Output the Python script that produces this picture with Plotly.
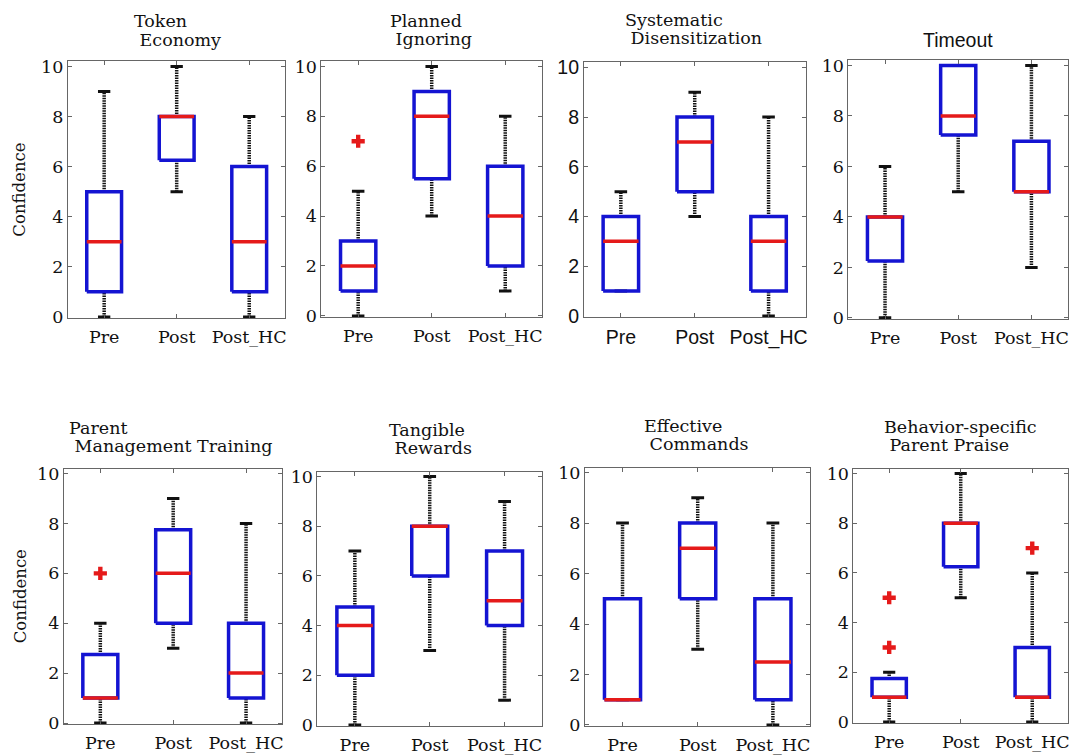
import plotly.graph_objects as go

# ---------------- data ----------------
categories = ["Pre", "Post", "Post_HC"]

# title lines per panel
title_line1 = ["Token", "Planned", "Systematic", "Timeout",
               "Parent", "Tangible", "Effective", "Behavior-specific"]
title_line2 = ["Economy", "Ignoring", "Disensitization", "",
               "Management Training", "Rewards", "Commands", "Parent Praise"]

# per panel: [Pre, Post, Post_HC]
lower_whisker = [
    [0, 5, 0],
    [0, 4, 1],
    [1, 4, 0],
    [0, 5, 2],
    [0, 3, 0],
    [0, 3, 1],
    [1, 3, 0],
    [0, 5, 0],
]
q1 = [
    [1, 6.25, 1],
    [1, 5.5, 2],
    [1, 5, 1],
    [2.25, 7.25, 5],
    [1, 4, 1],
    [2, 6, 4],
    [1, 5, 1],
    [1, 6.25, 1],
]
median = [
    [3, 8, 3],
    [2, 8, 4],
    [3, 7, 3],
    [4, 8, 5],
    [1, 6, 2],
    [4, 8, 5],
    [1, 7, 2.5],
    [1, 8, 1],
]
q3 = [
    [5, 8, 6],
    [3, 9, 6],
    [4, 8, 4],
    [4, 10, 7],
    [2.75, 7.75, 4],
    [4.75, 8, 7],
    [5, 8, 5],
    [1.75, 8, 3],
]
upper_whisker = [
    [9, 10, 8],
    [5, 10, 8],
    [5, 9, 8],
    [6, 10, 10],
    [4, 9, 8],
    [7, 10, 9],
    [8, 9, 8],
    [2, 10, 6],
]
outliers = [
    [[], [], []],
    [[7], [], []],
    [[], [], []],
    [[], [], []],
    [[6], [], []],
    [[], [], []],
    [[], [], []],
    [[3, 5], [], [7]],
]

# ---------------- layout geometry (target screen pixels) ----------------
OFF_X = 8          # page offset of the figure, horizontal
OFF_Y = 12.7       # page offset of the figure, vertical
SY = 1.0194        # vertical page-to-screenshot factor
W, H = 1070, 757
panel_px = [
    (68, 286, 60, 317),
    (322, 543, 60, 316),
    (585, 807, 61, 316),
    (850, 1070, 59, 318),
    (64, 283, 468, 724),
    (318, 543, 471, 726),
    (586, 812, 467, 726),
    (855, 1070, 468, 723),
]
# title placement: left x of block, line centers
title_left = [133, 390, 625, None, 68, 389, 644, 885]
title_y1 = [19, 19, 18, 39, 427, 429, 425, 426]
title_y2 = [39, 38, 37, None, 445, 447, 443, 444]

SERIF = "DejaVu Serif"
SANS = "Liberation Sans"
tick_fonts = [SERIF, SERIF, SANS, SERIF, SERIF, SERIF, SERIF, SERIF]
tick_sizes = [17.5, 17.5, 19.5, 17.5, 17.5, 17.5, 17.5, 17.5]
title_fonts = [SERIF, SERIF, SERIF, SANS, SERIF, SERIF, SERIF, SERIF]
title_sizes = [17.5, 17.5, 17.5, 19.5, 17.5, 17.5, 17.5, 17.5]

BLUE = "#1414d2"
RED = "#e51a1a"
BLACK = "#111111"
TXT = "#111111"
BOX_HALF = 0.24
CAP_HALF = 0.085


def px_x(p):
    return (p - OFF_X) / W


def px_y(p):
    return 1 - (p * SY - OFF_Y) / H


fig = go.Figure()

for i in range(8):
    ax = "" if i == 0 else str(i + 1)
    xa, ya = "x" + ax, "y" + ax
    wx, wy, cx, cy = [], [], [], []
    bx, by, mx, my = [], [], [], []
    ox, oy = [], []
    for j in range(3):
        c = j + 1
        lw, a, m, b, uw = (lower_whisker[i][j], q1[i][j], median[i][j],
                           q3[i][j], upper_whisker[i][j])
        wx += [c, c, None, c, c, None]
        wy += [lw, a, None, b, uw, None]
        cx += [c - CAP_HALF, c + CAP_HALF, None, c - CAP_HALF, c + CAP_HALF, None]
        cy += [lw, lw, None, uw, uw, None]
        bx += [c - BOX_HALF, c + BOX_HALF, c + BOX_HALF, c - BOX_HALF, c - BOX_HALF, None]
        by += [a, a, b, b, a, None]
        mx += [c - BOX_HALF, c + BOX_HALF, None]
        my += [m, m, None]
        for v in outliers[i][j]:
            ox.append(c)
            oy.append(v)
    fig.add_trace(go.Scatter(x=wx, y=wy, mode="lines", xaxis=xa, yaxis=ya,
                             line=dict(color=BLACK, width=3.5, dash="1.5px,1px"),
                             hoverinfo="skip", showlegend=False))
    fig.add_trace(go.Scatter(x=cx, y=cy, mode="lines", xaxis=xa, yaxis=ya,
                             line=dict(color=BLACK, width=3),
                             hoverinfo="skip", showlegend=False))
    fig.add_trace(go.Scatter(x=bx, y=by, mode="lines", xaxis=xa, yaxis=ya,
                             line=dict(color=BLUE, width=3.5),
                             hoverinfo="skip", showlegend=False))
    fig.add_trace(go.Scatter(x=mx, y=my, mode="lines", xaxis=xa, yaxis=ya,
                             line=dict(color=RED, width=3.5),
                             hoverinfo="skip", showlegend=False))
    if ox:
        fig.add_trace(go.Scatter(x=ox, y=oy, mode="markers", xaxis=xa, yaxis=ya,
                                 marker=dict(symbol="cross", size=11, color=RED,
                                             line=dict(width=0)),
                                 hoverinfo="skip", showlegend=False))

    l, r, t, btm = panel_px[i]
    common = dict(showline=True, linecolor="#666666", linewidth=1, mirror="ticks",
                  ticks="inside", ticklen=4, tickcolor="#666666", showgrid=False,
                  zeroline=False,
                  tickfont=dict(family=tick_fonts[i], size=tick_sizes[i], color=TXT))
    fig.layout["xaxis" + ax] = dict(
        domain=[px_x(l), px_x(r)], anchor=ya, range=[0.5, 3.5],
        tickvals=[1, 2, 3], ticktext=categories, ticklabelstandoff=3, **common)
    fig.layout["yaxis" + ax] = dict(
        domain=[px_y(btm), px_y(t)], anchor=xa, range=[-0.04, 10.2],
        tickvals=[0, 2, 4, 6, 8, 10], **common)

    # title lines
    tfont = dict(family=title_fonts[i], size=title_sizes[i], color=TXT)
    if title_left[i] is None:
        fig.add_annotation(
            x=px_x((l + r) / 2), y=px_y(title_y1[i]), xref="paper", yref="paper",
            xanchor="center", yanchor="middle", text=title_line1[i],
            showarrow=False, font=tfont)
    else:
        fig.add_annotation(
            x=px_x(title_left[i]), y=px_y(title_y1[i]), xref="paper", yref="paper",
            xanchor="left", yanchor="middle", text=title_line1[i],
            showarrow=False, font=tfont, borderpad=0)
        fig.add_annotation(
            x=px_x(title_left[i]), y=px_y(title_y2[i]), xref="paper", yref="paper",
            xanchor="left", yanchor="middle", text="\u00a0" + title_line2[i],
            showarrow=False, font=tfont, borderpad=0)

# y-axis labels
for (t, btm) in [(60, 317), (468, 724)]:
    fig.add_annotation(
        x=px_x(20), y=px_y((t + btm) / 2), xref="paper", yref="paper",
        xanchor="center", yanchor="middle", text="Confidence", textangle=-90,
        showarrow=False, font=dict(family=SERIF, size=16.5, color=TXT))

fig.update_layout(width=W, height=H, margin=dict(l=0, r=0, t=0, b=0),
                  plot_bgcolor="white", paper_bgcolor="white")

fig.write_html("out.html")
